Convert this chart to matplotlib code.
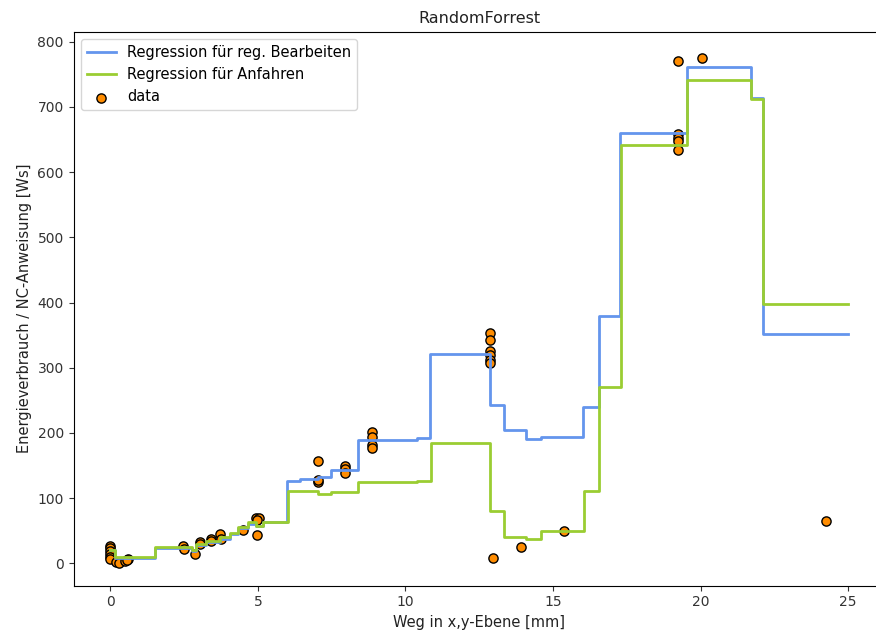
import numpy as np
import matplotlib
matplotlib.use("Agg")
import matplotlib.pyplot as plt

# step regression curves: start of each step and the value held until the next start
bearb_x = [0.0, 0.15, 1.5, 2.75, 2.9, 3.24, 3.7, 4.05, 4.33, 4.67, 4.95, 5.17, 5.99,
           6.42, 7.04, 7.49, 8.4, 10.38, 10.83, 12.88, 13.34, 14.1, 14.6, 16.03,
           16.55, 17.27, 19.55, 21.71, 22.11, 25.0]
bearb_y = [20, 7.5, 23, 19, 28, 33, 38, 45, 54, 60, 58, 63, 127,
           129, 132, 143, 189, 192, 321, 243, 205, 190, 194, 240,
           380, 660, 761, 713, 351, 351]

anf_x = [0.0, 0.15, 1.5, 2.75, 2.9, 3.24, 3.7, 4.05, 4.33, 4.67, 4.95, 5.17, 6.02,
         7.04, 7.49, 8.4, 10.38, 10.85, 12.88, 13.34, 14.1, 14.6, 16.05, 16.55,
         17.3, 19.55, 21.71, 22.11, 25.0]
anf_y = [20, 10, 25, 21, 30, 35, 40, 47, 56, 63, 58, 64, 111,
         106, 110, 124, 127, 184, 80, 41, 38, 49, 111, 270,
         642, 741, 712, 398, 398]

# measured points
data_x = [0, 0, 0, 0, 0, 0, 0.2, 0.3, 0.5, 0.6, 0.55,
          2.46, 2.5, 2.86, 3.03, 3.05, 3.42, 3.42, 3.71, 3.76, 4.5,
          4.95, 5.04, 4.97, 4.97,
          7.04, 7.04, 7.04, 7.95, 7.95, 7.95, 8.87, 8.87, 8.87, 8.87,
          12.86, 12.86, 12.86, 12.86, 12.86, 12.86, 12.98, 13.9, 15.38,
          19.23, 20.04, 19.23, 19.23, 19.23, 19.23, 24.26]
data_y = [27, 23, 19, 14, 9, 6, 2, 1, 3, 6, 5,
          26.5, 22, 14, 33, 29, 37, 34, 45, 38, 51,
          70, 70, 66, 43,
          157, 124, 128, 150, 144, 139, 202, 194, 181, 177,
          353, 343, 325, 319, 312, 307, 7.6, 25.5, 50,
          771, 775, 659, 653, 648, 634, 65]

fig = plt.figure(figsize=(8.76, 6.36), dpi=100)
ax = fig.add_axes([73.5 / 876, 50.3 / 636, 811.5 / 876, 554 / 636])

ax.plot(bearb_x, bearb_y, drawstyle='steps-post', color='cornflowerblue',
        linewidth=2, label='Regression für reg. Bearbeiten')
ax.plot(anf_x, anf_y, drawstyle='steps-post', color='yellowgreen',
        linewidth=2, label='Regression für Anfahren')
ax.scatter(data_x, data_y, s=44, c='darkorange', edgecolors='black', label='data')

ax.set_xlim(-1.25, 26.25)
ax.set_ylim(-34.3, 815.3)
ax.tick_params(labelsize=10, colors='#333333')
ax.set_title('RandomForrest', fontsize=11.5, color='#222222')
ax.set_xlabel('Weg in x,y-Ebene [mm]', fontsize=10.5, color='#222222')
ax.set_ylabel('Energieverbrauch / NC-Anweisung [Ws]', fontsize=10.5, color='#222222')
ax.legend(loc='upper left', fontsize=10.5)

fig.savefig('out.png', dpi=100)
